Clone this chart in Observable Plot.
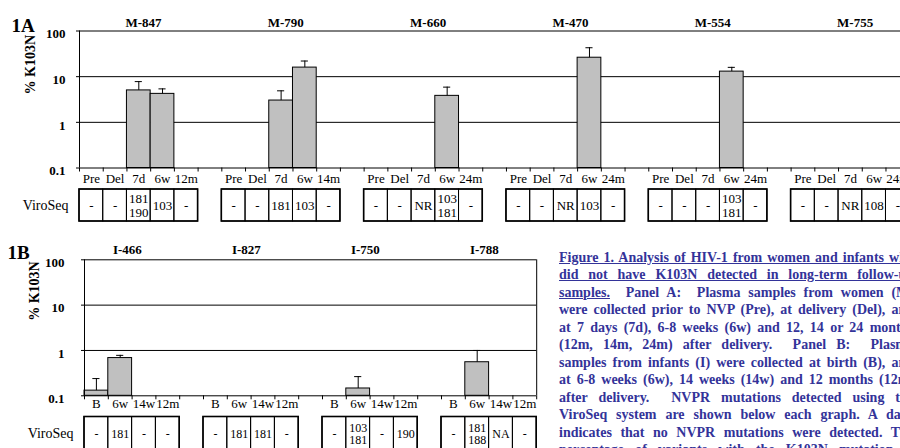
<!DOCTYPE html>
<html><head><meta charset="utf-8">
<script src="https://cdn.jsdelivr.net/npm/d3@7"></script>
<script src="https://cdn.jsdelivr.net/npm/@observablehq/plot@0.6"></script>
<style>
html,body{margin:0;padding:0;background:#fff;overflow:hidden;}
#page{position:relative;width:900px;height:448px;overflow:hidden;background:#fff;}
#page svg{position:absolute;left:0;top:0;}
#caption{position:absolute;left:559px;top:248.5px;font-family:"Liberation Serif",serif;font-weight:bold;font-size:14px;line-height:17.5px;color:#333399;}
.cl{white-space:pre;width:355px;}
.u{text-decoration:underline;}
</style></head><body><div id="page"><div id="caption"></div></div>
<script>
// ---------- Panel A data (women) ----------
const groupsA = ["M-847","M-790","M-660","M-470","M-554","M-755"];
const timesA = [
  ["Pre","Del","7d","6w","12m"],
  ["Pre","Del","7d","6w","14m"],
  ["Pre","Del","7d","6w","24m"],
  ["Pre","Del","7d","6w","24m"],
  ["Pre","Del","7d","6w","24m"],
  ["Pre","Del","7d","6w","24m"]
];
const k103nA = [
  [null,null,5.0,4.2,null],
  [null,null,3.0,15.8,null],
  [null,null,null,3.8,null],
  [null,null,null,26,null],
  [null,null,null,12.9,null],
  [null,null,null,null,null]
];
const errTopA = [
  [null,null,7.8,5.4,null],
  [null,null,4.9,22,null],
  [null,null,null,5.9,null],
  [null,null,null,43,null],
  [null,null,null,16,null],
  [null,null,null,null,null]
];
const viroSeqA = [
  ["-","-","181\n190","103","-"],
  ["-","-","181","103","-"],
  ["-","-","NR","103\n181","-"],
  ["-","-","NR","103","-"],
  ["-","-","-","103\n181","-"],
  ["-","-","NR","108","-"]
];

// ---------- Panel B data (infants) ----------
const groupsB = ["I-466","I-827","I-750","I-788"];
const timesB = [
  ["B","6w","14w","12m"],
  ["B","6w","14w","12m"],
  ["B","6w","14w","12m"],
  ["B","6w","14w","12m"]
];
const k103nB = [
  [0.13,0.68,null,null],
  [null,null,null,null],
  [null,0.145,null,null],
  [null,0.55,null,null]
];
const errTopB = [
  [0.24,0.78,null,null],
  [null,null,null,null],
  [null,0.265,null,null],
  [null,1.0,null,null]
];
const viroSeqB = [
  ["-","181","-","-"],
  ["-","181","181","-"],
  ["-","103\n181","-","190"],
  ["-","181\n188","NA","-"]
];

const yTicks = [0.1, 1, 10, 100];

const captionLines = [
  "Figure 1. Analysis of HIV-1 from women and infants who",
  "did not have K103N detected in long-term follow-up",
  "samples.  Panel A:  Plasma samples from women (M)",
  "were collected prior to NVP (Pre), at delivery (Del), and",
  "at 7 days (7d), 6-8 weeks (6w) and 12, 14 or 24 months",
  "(12m, 14m, 24m) after delivery.  Panel B:  Plasma",
  "samples from infants (I) were collected at birth (B), and",
  "at 6-8 weeks (6w), 14 weeks (14w) and 12 months (12m)",
  "after delivery.  NVPR mutations detected using the",
  "ViroSeq system are shown below each graph. A dash",
  "indicates that no NVPR mutations were detected. The",
  "percentage of variants with the K103N mutation is"
];
const captionUnderlined = [
  "Figure 1. Analysis of HIV-1 from women and infants who",
  "did not have K103N detected in long-term follow-up",
  "samples."
];

// ---------- helpers ----------
function flatten(groups, times, vals, tops, viro, per) {
  const slots = [];
  groups.forEach((g, gi) => {
    times[gi].forEach((label, ti) => {
      slots.push({group: g, gi, ti, i: gi * per + ti, label,
        value: vals[gi][ti], top: tops[gi][ti], viro: viro[gi][ti]});
    });
  });
  return slots;
}

const FONT = "Liberation Serif, Times New Roman, serif";

function chart(o) {
  const bars = o.slots.filter(d => d.value != null);
  const xEnd = o.x0 + o.nSlots * o.slotW;
  return Plot.plot({
    width: 900, height: 448,
    marginLeft: o.x0, marginRight: o.rightFrame ? 900 - xEnd : 0,
    marginTop: o.yTop, marginBottom: 448 - o.yBottom,
    x: {type: "linear", domain: [0, o.nSlots], range: [o.x0, xEnd]},
    y: {type: "log", domain: [0.1, 100], range: [o.yBottom, o.yTop]},
    style: {fontFamily: FONT, fontSize: "13px", background: "transparent", color: "#000"},
    marks: [
      Plot.ruleY([1, 10, 100], {stroke: "#000", strokeWidth: 1}),
      Plot.rect(bars, {x1: "i", x2: d => d.i + 1, y1: 0.1, y2: "value", fill: "#c0c0c0", stroke: "#000", strokeWidth: 1}),
      Plot.ruleX(bars, {x: d => d.i + 0.5, y1: "value", y2: "top", stroke: "#000"}),
      Plot.ruleY(bars, {y: "top", x1: d => d.i + 0.35, x2: d => d.i + 0.65, stroke: "#000"}),
      Plot.ruleY([0.1], {stroke: "#000"}),
      Plot.ruleX([0], {y1: 0.1, y2: 100, stroke: "#000"}),
      o.rightFrame ? Plot.ruleX([o.nSlots], {y1: 0.1, y2: 100, stroke: "#000"}) : null,
      Plot.axisX({ticks: d3.range(0, o.nSlots + 1), tickSize: 4, tickFormat: () => "", label: null, stroke: "#000"}),
      Plot.axisY({ticks: yTicks, tickSize: 3, tickFormat: () => "", label: null, stroke: "#000"}),
      Plot.axisY({ticks: yTicks, tickSize: 0, tickPadding: o.tickPad, tickFormat: d => String(d), label: null,
        fontWeight: "bold", fontSize: 13, dy: 3, fill: "#000"}),
      Plot.text(o.slots, {x: d => d.i + 0.5, text: "label", frameAnchor: "bottom", dy: o.catDy, fontSize: 13, fill: "#000"}),
      Plot.text(o.groups, {x: (d, gi) => gi * o.per + o.titleAt, text: d => d, frameAnchor: "top",
        dx: o.titleDx, dy: o.titleDy, fontWeight: "bold", fontSize: 13, fill: "#000"}),
      Plot.text([o.panelLabel], {text: d => d, frameAnchor: "top-left", textAnchor: "start",
        dx: o.panelDx, dy: o.panelDy, fontWeight: "bold", fontSize: 19, fill: "#000"}),
      Plot.text(["% K103N"], {text: d => d, frameAnchor: "left", rotate: -90,
        dx: o.ylabDx, dy: o.ylabDy, fontWeight: "bold", fontSize: 14, fill: "#000"})
    ]
  });
}

function table(o) {
  const xEnd = o.x0 + o.nSlots * o.slotW;
  const boxes = o.groups.map((g, gi) => {
    const s = o.slots.filter(d => d.gi === gi);
    return {x1: d3.min(s, d => d.i), x2: d3.max(s, d => d.i) + 1};
  });
  return Plot.plot({
    width: 900, height: 448,
    marginLeft: o.x0, marginRight: 0,
    marginTop: o.tTop, marginBottom: Math.max(0, 448 - o.tBottom),
    x: {type: "linear", domain: [0, o.nSlots], range: [o.x0, xEnd], axis: null},
    y: {type: "linear", domain: [0, 1], range: [o.tBottom, o.tTop], axis: null},
    style: {fontFamily: FONT, fontSize: "13px", background: "transparent", color: "#000"},
    marks: [
      Plot.rect(o.slots, {x1: "i", x2: d => d.i + 1, y1: 0, y2: 1, fill: "none", stroke: "#000", strokeWidth: 1}),
      Plot.rect(boxes, {x1: "x1", x2: "x2", y1: 0, y2: 1, fill: "none", stroke: "#000", strokeWidth: 1.6}),
      Plot.text(o.slots, {x: d => d.i + 0.5, y: 0.5, text: "viro", fontSize: o.cellFont, lineHeight: o.lineHeight, fill: "#000"}),
      Plot.text(["ViroSeq"], {text: d => d, frameAnchor: "left", textAnchor: "end", dx: -11, dy: o.viroDy, fontSize: 14, fill: "#000"})
    ]
  });
}

const slotsA = flatten(groupsA, timesA, k103nA, errTopA, viroSeqA, 6);
const slotsB = flatten(groupsB, timesB, k103nB, errTopB, viroSeqB, 5);

const page = document.getElementById("page");

page.appendChild(chart({slots: slotsA, groups: groupsA, per: 6, nSlots: 36, x0: 79, slotW: 23.72,
  yTop: 30.5, yBottom: 167.5, rightFrame: false, tickPad: 14, catDy: 14.5,
  titleAt: 2.5, titleDx: 4.7, titleDy: -13.5, panelLabel: "1A", panelDx: -68, panelDy: -12.5,
  ylabDx: -49, ylabDy: -5}));
page.appendChild(table({slots: slotsA, groups: groupsA, nSlots: 36, x0: 79, slotW: 23.72,
  tTop: 189, tBottom: 221, cellFont: 13, lineHeight: 1.08, viroDy: 0}));

page.appendChild(chart({slots: slotsB, groups: groupsB, per: 5, nSlots: 19, x0: 84, slotW: 23.8,
  yTop: 259.3, yBottom: 395.3, rightFrame: true, tickPad: 20, catDy: 12.4,
  titleAt: 2, titleDx: -4.7, titleDy: -14.6, panelLabel: "1B", panelDx: -77, panelDy: -14.5,
  ylabDx: -50, ylabDy: -7}));
page.appendChild(table({slots: slotsB, groups: groupsB, nSlots: 19, x0: 84, slotW: 23.8,
  tTop: 416.5, tBottom: 450, cellFont: 12, lineHeight: 1.03, viroDy: 0.5}));

// ---------- caption ----------
const cap = document.getElementById("caption");
const CAP_W = 355;
captionLines.forEach((line, i) => {
  const div = document.createElement("div");
  div.className = "cl";
  const inner = document.createElement("span");
  const u = captionUnderlined[i];
  if (u) {
    const us = document.createElement("span");
    us.className = "u";
    us.textContent = u;
    inner.appendChild(us);
    inner.appendChild(document.createTextNode(line.slice(u.length)));
  } else {
    inner.textContent = line;
  }
  div.appendChild(inner);
  cap.appendChild(div);
  const w = inner.getBoundingClientRect().width;
  const nSpaces = (line.match(/ /g) || []).length;
  if (nSpaces > 0) div.style.wordSpacing = ((CAP_W - w) / nSpaces) + "px";
});
</script></body></html>
